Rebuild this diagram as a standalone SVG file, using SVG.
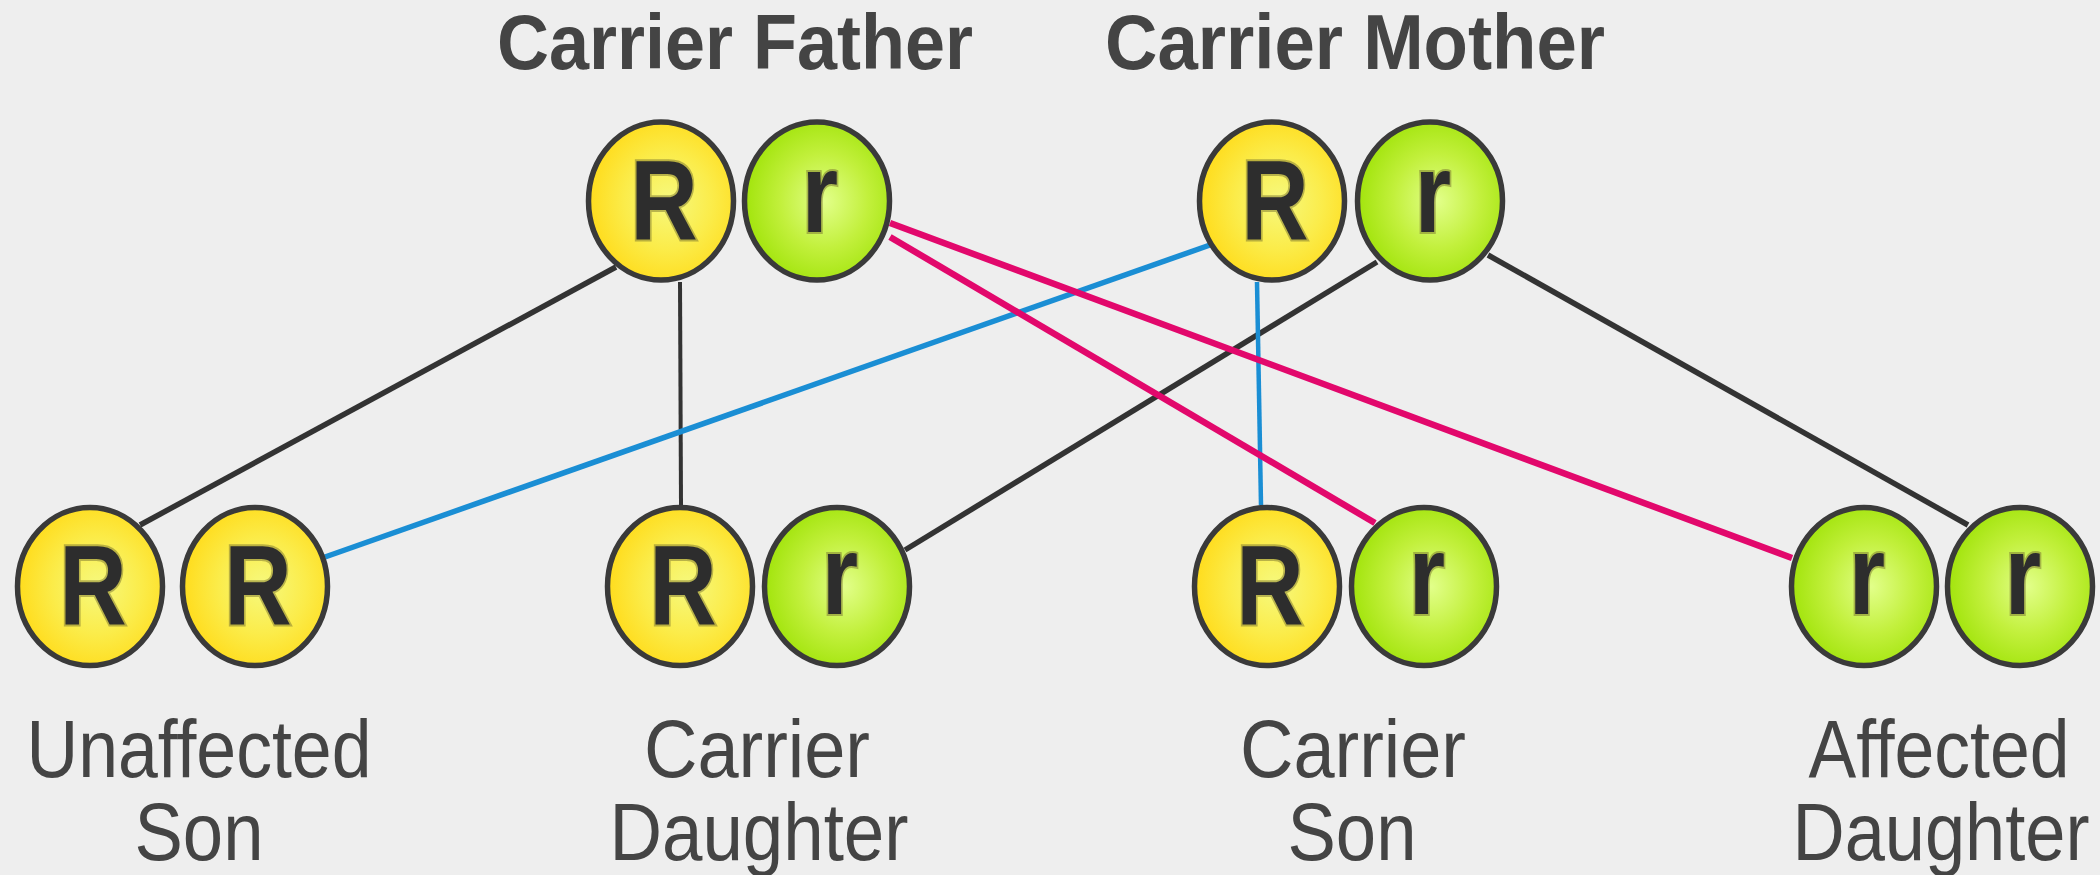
<svg xmlns="http://www.w3.org/2000/svg" width="2100" height="875" viewBox="0 0 2100 875">
<defs>
<radialGradient id="gy" cx="0.55" cy="0.5" r="0.55">
<stop offset="0" stop-color="#f6f97e"/>
<stop offset="0.55" stop-color="#fbec4a"/>
<stop offset="1" stop-color="#ffdc1c"/>
</radialGradient>
<radialGradient id="gg" cx="0.55" cy="0.5" r="0.55">
<stop offset="0" stop-color="#e2ff8a"/>
<stop offset="0.55" stop-color="#c2f03c"/>
<stop offset="1" stop-color="#a2e40c"/>
</radialGradient>
<style>
.al{stroke:#3a3a3a;stroke-width:5.5}
.y{fill:url(#gy)}
.g{fill:url(#gg)}
.lt{font-family:"Liberation Sans",Arial,sans-serif;font-weight:bold;font-size:114px;fill:#2d2d2d;stroke:#7a7430;stroke-opacity:0.5;stroke-width:4;paint-order:stroke;text-anchor:middle}
.ttl{font-family:"Liberation Sans",Arial,sans-serif;font-weight:bold;font-size:78px;fill:#444;text-anchor:middle}
.lbl{font-family:"Liberation Sans",Arial,sans-serif;font-size:82px;fill:#444;text-anchor:middle}
.k{stroke:#333;stroke-width:5.5;fill:none}
.kv{stroke:#333;stroke-width:4;fill:none}
.b{stroke:#1a8ed4;stroke-width:5.5;fill:none}
.bv{stroke:#1a8ed4;stroke-width:4.5;fill:none}
.p{stroke:#e2086c;stroke-width:6.5;fill:none}
</style>
</defs>
<rect width="2100" height="875" fill="#eeeeee"/>
<g id="connectors">
<line class="k" x1="616" y1="267" x2="140" y2="525"/>
<line class="kv" x1="680" y1="282" x2="681" y2="505"/>
<line class="k" x1="1377" y1="262" x2="905" y2="550"/>
<line class="k" x1="1488" y1="255" x2="1968" y2="525"/>
<line class="b" x1="1210" y1="245" x2="325" y2="557"/>
<line class="bv" x1="1257" y1="282" x2="1261" y2="505"/>
<line class="p" x1="890" y1="237" x2="1375" y2="523"/>
<line class="p" x1="890" y1="223" x2="1792" y2="558"/>
</g>
<g id="title-father"><text class="ttl" x="735" y="69" textLength="476" lengthAdjust="spacingAndGlyphs">Carrier Father</text></g>
<g id="title-mother"><text class="ttl" x="1355" y="69" textLength="500" lengthAdjust="spacingAndGlyphs">Carrier Mother</text></g>
<g id="father">
<ellipse class="al y" cx="661" cy="201" rx="72.5" ry="79"/>
<text class="lt" transform="translate(664,240) scale(0.82,1)">R</text>
<ellipse class="al g" cx="817" cy="201" rx="72.5" ry="79"/>
<text class="lt" transform="translate(820,232) scale(0.82,1)">r</text>
</g>
<g id="mother">
<ellipse class="al y" cx="1272" cy="201" rx="72.5" ry="79"/>
<text class="lt" transform="translate(1275,240) scale(0.82,1)">R</text>
<ellipse class="al g" cx="1430" cy="201" rx="72.5" ry="79"/>
<text class="lt" transform="translate(1433,232) scale(0.82,1)">r</text>
</g>
<g id="unaffected-son">
<ellipse class="al y" cx="90" cy="586.5" rx="72.5" ry="79"/>
<text class="lt" transform="translate(93,625) scale(0.82,1)">R</text>
<ellipse class="al y" cx="255" cy="586.5" rx="72.5" ry="79"/>
<text class="lt" transform="translate(258,625) scale(0.82,1)">R</text>
<text class="lbl" x="199" y="777" textLength="345" lengthAdjust="spacingAndGlyphs">Unaffected</text>
<text class="lbl" x="199" y="860" textLength="129" lengthAdjust="spacingAndGlyphs">Son</text>
</g>
<g id="carrier-daughter">
<ellipse class="al y" cx="680" cy="586.5" rx="72.5" ry="79"/>
<text class="lt" transform="translate(683,625) scale(0.82,1)">R</text>
<ellipse class="al g" cx="837" cy="586.5" rx="72.5" ry="79"/>
<text class="lt" transform="translate(840,614) scale(0.82,1)">r</text>
<text class="lbl" x="757" y="777" textLength="226" lengthAdjust="spacingAndGlyphs">Carrier</text>
<text class="lbl" x="759" y="860" textLength="299" lengthAdjust="spacingAndGlyphs">Daughter</text>
</g>
<g id="carrier-son">
<ellipse class="al y" cx="1267" cy="586.5" rx="72.5" ry="79"/>
<text class="lt" transform="translate(1270,625) scale(0.82,1)">R</text>
<ellipse class="al g" cx="1424" cy="586.5" rx="72.5" ry="79"/>
<text class="lt" transform="translate(1427,614) scale(0.82,1)">r</text>
<text class="lbl" x="1353" y="777" textLength="226" lengthAdjust="spacingAndGlyphs">Carrier</text>
<text class="lbl" x="1352" y="860" textLength="129" lengthAdjust="spacingAndGlyphs">Son</text>
</g>
<g id="affected-daughter">
<ellipse class="al g" cx="1864" cy="586.5" rx="72.5" ry="79"/>
<text class="lt" transform="translate(1867,614) scale(0.82,1)">r</text>
<ellipse class="al g" cx="2020" cy="586.5" rx="72.5" ry="79"/>
<text class="lt" transform="translate(2023,614) scale(0.82,1)">r</text>
<text class="lbl" x="1939" y="777" textLength="261" lengthAdjust="spacingAndGlyphs">Affected</text>
<text class="lbl" x="1941" y="860" textLength="297" lengthAdjust="spacingAndGlyphs">Daughter</text>
</g>
</svg>
